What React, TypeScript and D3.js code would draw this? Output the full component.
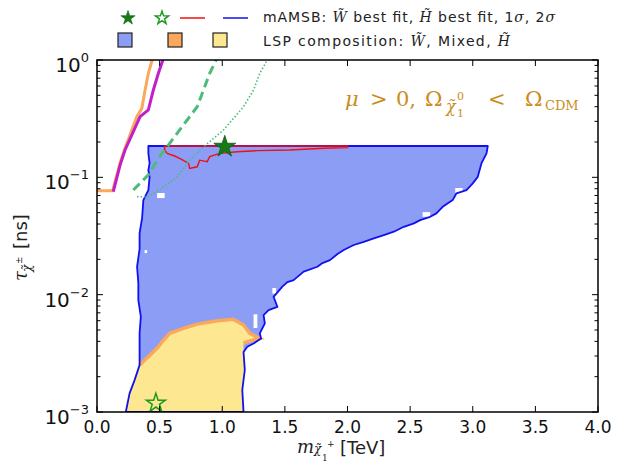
import React from 'react';
import * as d3 from 'd3';

type Pt = [number, number];

// chargino mass [TeV], lifetime [ns]
const winoRegion: Pt[] = [
  [0.41, 0.185], [3.12, 0.185], [3.11, 0.160], [3.07, 0.132], [3.04, 0.101], [3.0, 0.0889],
  [2.95, 0.0779], [2.87, 0.0731], [2.84, 0.064], [2.76, 0.0561], [2.71, 0.0493], [2.66, 0.0461],
  [2.58, 0.0432], [2.53, 0.0405], [2.45, 0.0379], [2.37, 0.0344], [2.29, 0.0322], [2.21, 0.0302],
  [2.13, 0.0282], [2.05, 0.0265], [1.97, 0.024], [1.92, 0.0222], [1.86, 0.0197], [1.80, 0.0186],
  [1.76, 0.0173], [1.65, 0.0157], [1.57, 0.0133], [1.52, 0.0128], [1.48, 0.0117], [1.41, 0.00959],
  [1.44, 0.00788], [1.37, 0.00739], [1.33, 0.0067], [1.34, 0.00569], [1.30, 0.00468], [1.31, 0.00424],
  [1.25, 0.00384], [1.20, 0.0036], [1.17, 0.00324], [1.18, 0.00228], [1.16, 0.00154], [1.17, 0.001],
  [0.23, 0.001], [0.26, 0.00144], [0.30, 0.00187], [0.34, 0.00251], [0.34, 0.00471], [0.35, 0.0065],
  [0.33, 0.00899], [0.33, 0.0125], [0.32, 0.0173], [0.34, 0.0245], [0.34, 0.0335], [0.36, 0.045],
  [0.37, 0.064], [0.41, 0.0779], [0.42, 0.101], [0.41, 0.115], [0.42, 0.132], [0.41, 0.16]
];

const higgsinoEdge: Pt[] = [
  [0.34, 0.00251], [0.41, 0.00296], [0.49, 0.0036], [0.52, 0.00397], [0.58, 0.00468],
  [0.69, 0.00516], [0.80, 0.00561], [0.96, 0.00599], [1.09, 0.00616], [1.17, 0.00551],
  [1.22, 0.00468], [1.30, 0.00424], [1.20, 0.00397], [1.17, 0.00384]
];
const higgsinoLower: Pt[] = [
  [1.17, 0.00324], [1.18, 0.00228], [1.16, 0.00154], [1.17, 0.001],
  [0.23, 0.001], [0.26, 0.00144], [0.30, 0.00187]
];

const sigma1: Pt[] = [
  [0.54, 0.185], [2.0, 0.185], [2.0, 0.179], [1.81, 0.177], [1.54, 0.171], [1.28, 0.169],
  [1.12, 0.165], [0.98, 0.16], [0.90, 0.15], [0.88, 0.136], [0.82, 0.14], [0.80, 0.123],
  [0.74, 0.119], [0.73, 0.132], [0.66, 0.145], [0.62, 0.152], [0.56, 0.16], [0.54, 0.171]
];

const dashedCurve: Pt[] = [
  [0.29, 0.0779], [0.41, 0.105], [0.50, 0.15], [0.58, 0.195], [0.72, 0.308],
  [0.80, 0.40], [0.86, 0.592], [0.90, 0.77], [0.95, 1.0], [0.97, 1.1]
];
const dottedCurve: Pt[] = [
  [0.32, 0.0684], [0.41, 0.0684], [0.50, 0.0779], [0.64, 0.101], [0.74, 0.14], [0.85, 0.182],
  [1.01, 0.253], [1.17, 0.40], [1.25, 0.555], [1.30, 0.77], [1.36, 1.0], [1.38, 1.1]
];
const orangeCurve: Pt[] = [
  [0.0, 0.0769], [0.125, 0.0769], [0.184, 0.132], [0.21, 0.161], [0.318, 0.329],
  [0.358, 0.387], [0.384, 0.555], [0.41, 0.77], [0.44, 1.0], [0.452, 1.1]
];
const magentaCurve: Pt[] = [
  [0.13, 0.0754], [0.184, 0.127], [0.224, 0.171], [0.344, 0.329], [0.41, 0.375],
  [0.45, 0.555], [0.49, 0.77], [0.526, 1.0], [0.54, 1.1]
];

// white gaps in the wino fill: m0, m1, tauHigh, tauLow
const holes: [number, number, number, number][] = [
  [0.48, 0.54, 0.0735, 0.0666], [2.86, 2.92, 0.081, 0.0736], [2.60, 2.66, 0.0505, 0.0461],
  [1.25, 1.28, 0.0068, 0.0052], [1.40, 1.43, 0.0114, 0.0102], [0.38, 0.40, 0.024, 0.0226]
];

const winoBest: Pt = [1.02, 0.182];
const higgsinoBest: Pt = [0.47, 0.00112];

const xTicks = [0, 0.5, 1, 1.5, 2, 2.5, 3, 3.5, 4];
const yMajor = [1e-3, 1e-2, 1e-1, 1];
const yExp = ['\u22123', '\u22122', '\u22121', '0'];

const W = 617, H = 467;
const L = 97, R = 598, T = 60, B = 412;
const sans = 'DejaVu Sans, sans-serif';
const serif = 'DejaVu Serif, serif';
const gold = '#c88d1c';

const App = () => {
  const x = d3.scaleLinear().domain([0, 4]).range([L, R]);
  const y = d3.scaleLog().domain([1e-3, 1]).range([B, T]);
  const line = d3.line<Pt>().x(d => x(d[0])).y(d => y(d[1]));
  const closed = (pts: Pt[]) => line(pts) + 'Z';

  const yMinor: number[] = [];
  yMajor.slice(0, 3).forEach(v => { for (let k = 2; k < 10; k++) yMinor.push(v * k); });

  const star = (r: number) => d3.symbol().type(d3.symbolStar).size((r * r) / 0.8908)();

  const higgsinoRegion = [...higgsinoEdge, ...higgsinoLower];

  return (
    <div style={{ position: 'absolute', left: 0, top: 0 }}>
      <svg width={W} height={H} style={{ display: 'block', background: '#fff' }}>
        <defs>
          <clipPath id="plot"><rect x={L} y={T} width={R - L} height={B - T} /></clipPath>
        </defs>

        <g clipPath="url(#plot)">
          <path d={closed(winoRegion)} fill="#8c9df5" />
          <path d={closed(higgsinoRegion)} fill="#fde791" />
          <path d={line(higgsinoEdge)!} fill="none" stroke="#f9a85c" strokeWidth={3.5} />
          {holes.map((h, i) => (
            <rect key={i} x={x(h[0])} y={y(h[2])} width={x(h[1]) - x(h[0])} height={y(h[3]) - y(h[2])} fill="#fff" />
          ))}
          <path d={closed(winoRegion)} fill="none" stroke="#1010f0" strokeWidth={1.8} strokeLinejoin="round" />
          <path d={closed(sigma1)} fill="none" stroke="#f01010" strokeWidth={1.4} />
          <path d={line(dashedCurve)!} fill="none" stroke="#4dbb7a" strokeWidth={3} strokeDasharray="9,5" />
          <path d={line(dottedCurve)!} fill="none" stroke="#4dbb7a" strokeWidth={1.6} strokeDasharray="1.5,2" />
          <path d={line(orangeCurve)!} fill="none" stroke="#f9a85c" strokeWidth={3} />
          <path d={line(magentaCurve)!} fill="none" stroke="#c21fc8" strokeWidth={3} />
          <path d={star(11.5)!} transform={`translate(${x(winoBest[0])},${y(winoBest[1])})`} fill="#157a17" stroke="#0d5e0e" strokeWidth={0.8} />
          <path d={star(10)!} transform={`translate(${x(higgsinoBest[0])},${y(higgsinoBest[1]) - 3})`} fill="none" stroke="#1d9a1f" strokeWidth={1.5} />
        </g>

        {/* frame and ticks */}
        <rect x={L} y={T} width={R - L} height={B - T} fill="none" stroke="#000" strokeWidth={1.5} />
        {xTicks.map(t => (
          <g key={'x' + t}>
            <line x1={x(t)} x2={x(t)} y1={B} y2={B - 6} stroke="#000" />
            <line x1={x(t)} x2={x(t)} y1={T} y2={T + 6} stroke="#000" />
            <text x={x(t)} y={B + 21} textAnchor="middle" fontFamily={sans} fontSize={17} fill="#111">{t.toFixed(1)}</text>
          </g>
        ))}
        {yMajor.map((t, i) => (
          <g key={'y' + t}>
            <line x1={L} x2={L + 6} y1={y(t)} y2={y(t)} stroke="#000" />
            <line x1={R} x2={R - 6} y1={y(t)} y2={y(t)} stroke="#000" />
            <text x={89} y={y(t) + 12} textAnchor="end" fontFamily={sans} fontSize={20} fill="#111">
              10<tspan dy={-10} fontSize={13}>{yExp[i]}</tspan>
            </text>
          </g>
        ))}
        {yMinor.map(t => (
          <g key={'m' + t}>
            <line x1={L} x2={L + 3.5} y1={y(t)} y2={y(t)} stroke="#000" />
            <line x1={R} x2={R - 3.5} y1={y(t)} y2={y(t)} stroke="#000" />
          </g>
        ))}

        {/* x axis label */}
        <text x={297} y={453} fontFamily={serif} fontStyle="italic" fontSize={18} fill="#222">m</text>
        <text x={314} y={453} fontFamily={serif} fontStyle="italic" fontSize={12} fill="#222">{'\u03c7\u0303'}</text>
        <text x={322} y={461} fontFamily={serif} fontSize={9} fill="#222">1</text>
        <text x={327} y={447} fontFamily={serif} fontSize={9} fill="#222">+</text>
        <text x={340} y={454} fontFamily={sans} fontSize={18} fill="#222">[TeV]</text>

        {/* y axis label */}
        <g transform="translate(27,237) rotate(-90)">
          <text x={-44} y={0} fontFamily={serif} fontStyle="italic" fontSize={18} fill="#222">{'\u03c4'}</text>
          <text x={-35} y={4} fontFamily={serif} fontStyle="italic" fontSize={12} fill="#222">{'\u03c7\u0303'}</text>
          <text x={-27} y={-5} fontFamily={serif} fontSize={9} fill="#222">{'\u00b1'}</text>
          <text x={-12} y={0} fontFamily={sans} fontSize={18} fill="#222">[ns]</text>
        </g>

        {/* annotation */}
        <g fontFamily={serif} fill={gold}>
          <text x={345} y={106} fontSize={21} fontStyle="italic">{'\u03bc'}</text>
          <text x={370} y={106} fontSize={21}>&gt;</text>
          <text x={396} y={106} fontSize={21}>0,</text>
          <text x={425} y={106} fontSize={21}>{'\u03a9'}</text>
          <text x={446} y={112} fontSize={16} fontStyle="italic">{'\u03c7\u0303'}</text>
          <text x={457} y={100} fontSize={11}>0</text>
          <text x={457} y={117} fontSize={11}>1</text>
          <text x={488} y={106} fontSize={21}>&lt;</text>
          <text x={525} y={106} fontSize={21}>{'\u03a9'}</text>
          <text x={545} y={110} fontSize={13}>CDM</text>
        </g>

        {/* legend */}
        <path d={star(7.5)!} transform="translate(128,18)" fill="#157a17" stroke="#0d5e0e" strokeWidth={0.6} />
        <path d={star(7)!} transform="translate(162,18)" fill="none" stroke="#1d9a1f" strokeWidth={1.4} />
        <line x1={180} x2={205} y1={18} y2={18} stroke="#f01010" strokeWidth={1.5} />
        <line x1={223} x2={248} y1={18} y2={18} stroke="#1010f0" strokeWidth={1.5} />
        <text x={263} y={22} fontFamily={sans} fontSize={14} fill="#222" textLength={292} lengthAdjust="spacing">
          mAMSB: <tspan fontFamily={serif} fontStyle="italic">{'W\u0303'}</tspan> best fit, <tspan fontFamily={serif} fontStyle="italic">{'H\u0303'}</tspan> best fit, 1<tspan fontFamily={serif} fontStyle="italic">{'\u03c3'}</tspan>, 2<tspan fontFamily={serif} fontStyle="italic">{'\u03c3'}</tspan>
        </text>
        {[['#8c9df5', 125], ['#f9a85c', 175], ['#fde791', 220]].map(([c, cx]) => (
          <rect key={c as string} x={(cx as number) - 7} y={33} width={14} height={14} fill={c as string} stroke="#222" strokeWidth={1.2} />
        ))}
        <text x={263} y={46} fontFamily={sans} fontSize={14} fill="#222" textLength={247} lengthAdjust="spacing">
          LSP composition: <tspan fontFamily={serif} fontStyle="italic">{'W\u0303'}</tspan>, Mixed, <tspan fontFamily={serif} fontStyle="italic">{'H\u0303'}</tspan>
        </text>
      </svg>
    </div>
  );
};

export default App;
